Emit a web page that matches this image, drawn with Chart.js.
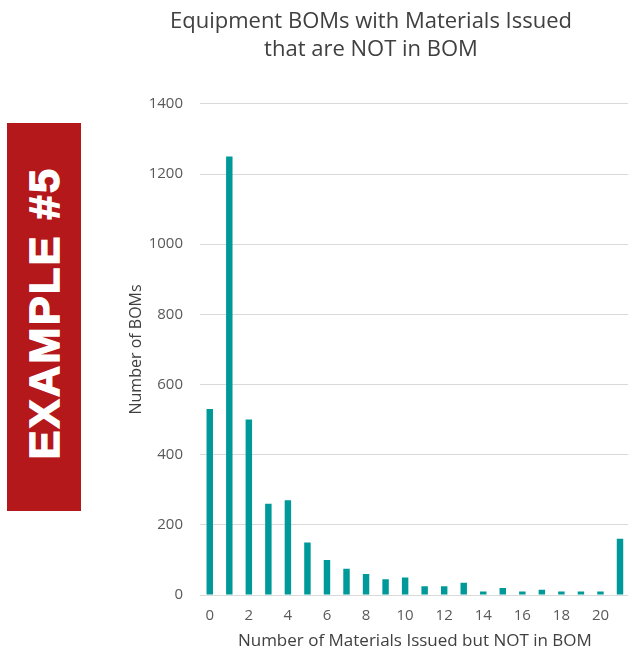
<!DOCTYPE html>
<html>
<head>
<meta charset="utf-8">
<script src="https://cdn.jsdelivr.net/npm/chart.js@4.4.1/dist/chart.umd.min.js"></script>
<style>
    html, body { margin: 0; padding: 0; background: #fff; overflow: hidden; }
    #wrap { position: absolute; left: 0; top: 0; width: 632px; height: 652px; }
    #banner {
        position: absolute; left: 7px; top: 123px; width: 74px; height: 388px;
        background: #b5181a;
    }
    #banner span {
        position: absolute; left: 50%; top: 49%;
        transform: translate(-50%, -50%) rotate(-90deg);
        white-space: nowrap; color: #fff;
        font-family: 'Liberation Sans', Arial, sans-serif; font-weight: bold;
        font-size: 43px; letter-spacing: 2.5px;
        -webkit-text-stroke: 1.5px #fff;
    }
</style>
</head>
<body>
<div id="banner"><span>EXAMPLE #5</span></div>
<div id="wrap"><canvas id="bomChart"></canvas></div>
<script>
// valores
const categories = ['0','1','2','3','4','5','6','7','8','9','10','11','12','13','14','15','16','17','18','19','20','21'];
const bomCounts = [530, 1250, 500, 260, 270, 150, 100, 75, 60, 45, 50, 25, 25, 35, 10, 20, 10, 15, 10, 10, 10, 160];
const yTicks = [0, 200, 400, 600, 800, 1000, 1200, 1400];

const fontFam = "'Open Sans', sans-serif";
const ctx = document.getElementById('bomChart').getContext('2d');

const chart = new Chart(ctx, {
    type: 'bar',
    data: {
        labels: categories,
        datasets: [{
            label: 'Number of BOMs',
            data: bomCounts,
            backgroundColor: '#009999',
            barPercentage: 0.33,
            categoryPercentage: 1
        }]
    },
    options: {
        responsive: true,
        maintainAspectRatio: false,
        animation: false,
        layout: { padding: { left: 110, right: 0, top: 0, bottom: 0 } },
        plugins: {
            legend: { display: false },
            tooltip: { enabled: false },
            title: {
                display: true,
                text: ['Equipment BOMs with Materials Issued', 'that are NOT in BOM'],
                color: '#404040',
                font: { family: fontFam, size: 22, weight: 'normal', lineHeight: 1.27 },
                padding: { top: 8, bottom: 40 }
            }
        },
        scales: {
            x: {
                afterFit: function(axis) { axis.height = 57; },
                grid: { display: false, drawTicks: false },
                border: { display: false },
                ticks: {
                    autoSkip: false,
                    maxRotation: 0,
                    padding: 12,
                    color: '#595959',
                    font: { family: fontFam, size: 15 },
                    // solo etiquetas pares, como el original
                    callback: function(value, index) {
                        return index % 2 === 0 ? categories[index] : '';
                    }
                },
                title: {
                    display: true,
                    text: 'Number of Materials Issued but NOT in BOM',
                    color: '#404040',
                    font: { family: fontFam, size: 17 },
                    padding: { top: 8, bottom: 1 }
                }
            },
            y: {
                min: 0,
                max: 1400,
                afterBuildTicks: function(axis) {
                    axis.ticks = yTicks.map(v => ({ value: v }));
                },
                afterFit: function(axis) { axis.width = 90; },
                grid: { color: '#d9d9d9', lineWidth: 1, drawTicks: false },
                border: { display: false },
                ticks: {
                    padding: 17,
                    color: '#595959',
                    font: { family: fontFam, size: 15 },
                    callback: function(value) { return String(value); }
                },
                title: {
                    display: true,
                    text: 'Number of BOMs',
                    color: '#404040',
                    font: { family: fontFam, size: 16 },
                    padding: { top: 17, bottom: 0 }
                }
            }
        }
    }
});
</script>
</body>
</html>
